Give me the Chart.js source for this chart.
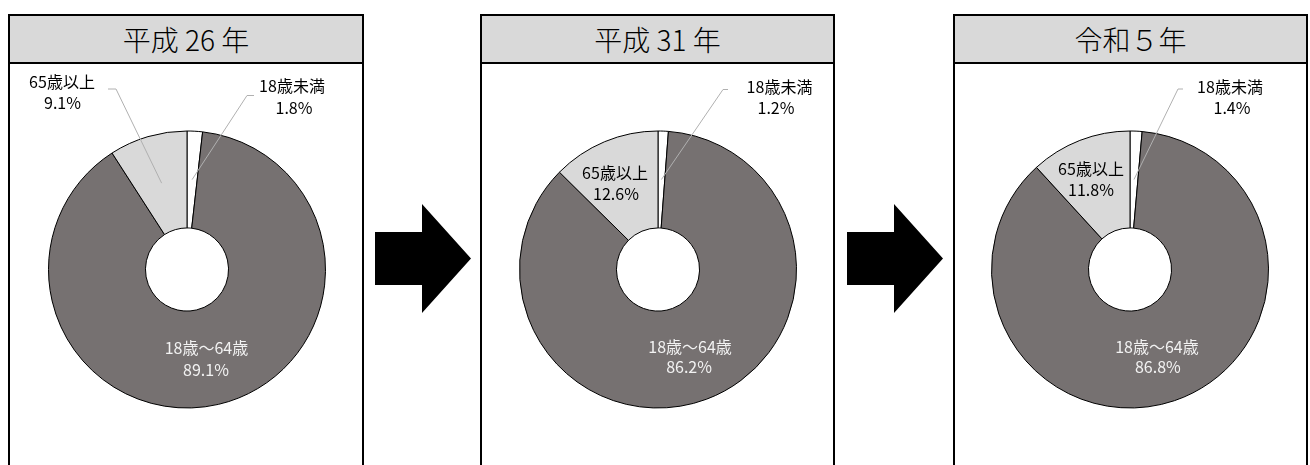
<!DOCTYPE html>
<html lang="ja">
<head>
<meta charset="utf-8">
<title>年齢区分別構成比</title>
<script src="https://cdn.jsdelivr.net/npm/chart.js@4.4.1/dist/chart.umd.min.js"></script>
<style>
  html, body { margin: 0; padding: 0; background: #fff; }
  body {
    width: 1310px; height: 465px; overflow: hidden; position: relative;
    font-family: "Noto Sans CJK JP", "Noto Sans", sans-serif;
  }
  .panel {
    position: absolute; top: 14px; height: 470px;
    border: 2px solid #000; border-bottom: none;
  }
  .head {
    height: 46px; background: #d9d9d9; border-bottom: 2px solid #000;
    text-align: center; font-size: 28px; font-weight: 300; line-height: 46px; color: #000;
  }
  canvas { position: absolute; top: 64px; }
  svg.arrows { position: absolute; left: 0; top: 0; }
</style>
</head>
<body>
<div class="panel" style="left:8px;width:352px"><div class="head" id="t0"></div></div>
<div class="panel" style="left:480px;width:351px"><div class="head" id="t1"></div></div>
<div class="panel" style="left:953px;width:351px"><div class="head" id="t2"></div></div>

<svg class="arrows" width="1310" height="465">
  <polygon points="375,232 422,232 422,204 471,258.5 422,313 422,285 375,285" fill="#000"/>
  <polygon points="847,232 894,232 894,204 943,258.5 894,313 894,285 847,285" fill="#000"/>
</svg>

<canvas id="c0" width="350" height="411" style="left:12px"></canvas>
<canvas id="c1" width="350" height="411" style="left:483px"></canvas>
<canvas id="c2" width="350" height="411" style="left:955px"></canvas>

<script>
// 年次と年齢区分
const years = ['平成 26 年', '平成 31 年', '令和５年'];
const categories = ['18歳未満', '18歳～64歳', '65歳以上'];

// 構成比（%）
const under18  = [1.8, 1.2, 1.4];
const age18to64 = [89.1, 86.2, 86.8];
const over65   = [9.1, 12.6, 11.8];

const sliceColors = ['#ffffff', '#767171', '#d9d9d9'];

// ラベル配置（中心または扇形の重心からのずれ）と引き出し線
const labelLayout = [
  [
    { index: 0, anchor: 'center', color: '#000', lines: [[105, -183.5], [107, -161.5]], leader: [[67, -174], [60, -174]] },
    { index: 2, anchor: 'center', color: '#000', lines: [[-125, -187.5], [-124.5, -166.5]], leader: [[-79, -180.5], [-71, -180.5]] },
    { index: 1, anchor: 'centroid', color: '#f2f2f2', lines: [[-1, -9], [-1.5, 13]] }
  ],
  [
    { index: 0, anchor: 'center', color: '#000', lines: [[121.5, -182.5], [118, -161.5]], leader: [[70, -180], [65, -180]] },
    { index: 2, anchor: 'center', color: '#000', lines: [[-43, -96.5], [-42, -76]] },
    { index: 1, anchor: 'centroid', color: '#f2f2f2', lines: [[0.5, -7], [-0.5, 13]] }
  ],
  [
    { index: 0, anchor: 'center', color: '#000', lines: [[100, -182.5], [102, -161.5]], leader: [[53, -180.5], [48, -180.5]] },
    { index: 2, anchor: 'center', color: '#000', lines: [[-39, -100.5], [-39, -79.5]] },
    { index: 1, anchor: 'centroid', color: '#f2f2f2', lines: [[-2, -8], [-1, 12]] }
  ]
];

// 扇形ごとの名称と構成比、引き出し線を描く
const sliceLabels = {
  id: 'sliceLabels',
  afterDatasetsDraw(chart, args, opts) {
    const ctx = chart.ctx;
    const arcs = chart.getDatasetMeta(0).data;
    const values = chart.data.datasets[0].data;
    const names = chart.data.labels;
    ctx.save();
    opts.items.forEach(item => {
      const arc = arcs[item.index];
      const mid = arc.tooltipPosition();
      const base = item.anchor === 'centroid' ? mid : { x: arc.x, y: arc.y };
      if (item.leader) {
        ctx.beginPath();
        ctx.strokeStyle = '#b0b0b0';
        ctx.lineWidth = 1;
        ctx.moveTo(arc.x + item.leader[0][0], arc.y + item.leader[0][1]);
        ctx.lineTo(arc.x + item.leader[1][0], arc.y + item.leader[1][1]);
        ctx.lineTo(mid.x, mid.y);
        ctx.stroke();
      }
      const texts = [names[item.index], values[item.index].toFixed(1) + '%'];
      ctx.fillStyle = item.color;
      ctx.font = '16px "Noto Sans CJK JP"';
      ctx.textAlign = 'center';
      ctx.textBaseline = 'middle';
      texts.forEach((t, k) => {
        ctx.fillText(t, base.x + item.lines[k][0], base.y + item.lines[k][1]);
      });
    });
    ctx.restore();
  }
};

function draw() {
  years.forEach((y, i) => {
    document.getElementById('t' + i).textContent = y;
    new Chart(document.getElementById('c' + i), {
      type: 'doughnut',
      data: {
        labels: categories,
        datasets: [{
          data: [under18[i], age18to64[i], over65[i]],
          backgroundColor: sliceColors,
          borderColor: '#000',
          borderWidth: 1
        }]
      },
      options: {
        responsive: false,
        animation: false,
        radius: 138.5,
        cutout: '30%',
        rotation: 0,
        layout: { padding: 0 },
        plugins: {
          legend: { display: false },
          tooltip: { enabled: false },
          sliceLabels: { items: labelLayout[i] }
        }
      },
      plugins: [sliceLabels]
    });
  });
}

if (document.fonts && document.fonts.load) {
  Promise.all([
    document.fonts.load('16px "Noto Sans CJK JP"'),
    document.fonts.load('300 28px "Noto Sans CJK JP"')
  ]).then(draw, draw);
} else {
  draw();
}
</script>
</body>
</html>
